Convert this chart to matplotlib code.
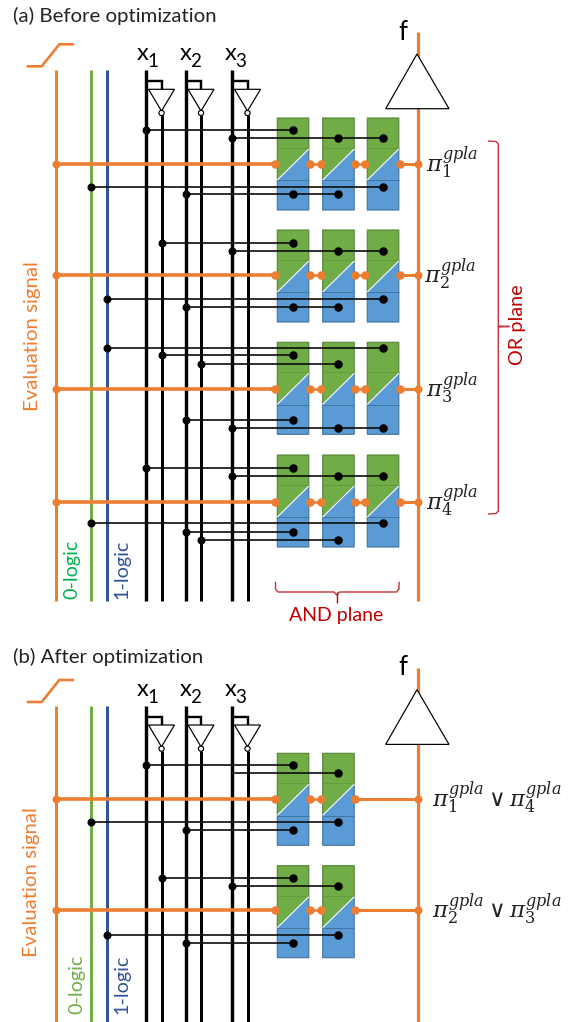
import matplotlib
matplotlib.use('Agg')
import matplotlib.pyplot as plt
from matplotlib.patches import Polygon, Circle

plt.rcParams['font.family'] = ['Lato', 'DejaVu Sans']
plt.rcParams['mathtext.fontset'] = 'dejavuserif'

ORANGE = '#ED7D31'
GREEN = '#70AD47'
BLUE = '#2F5597'
RED = '#C00000'

# rail positions, in picture pixels
rails = {'eval': 55.5, '0': 91, '1': 107,
         'x1': 145.5, 'n1': 161.5, 'x2': 185.5, 'n2': 201, 'x3': 231.5, 'n3': 247.5}
cell_left = [277.3, 322.7, 367.3]
cell_dots = [293, 338, 383]
or_line = 418
x_label_shift = {'1': -3, '2': 0.5, '3': -0.5}
sub_label_shift = {'1': 7.5, '2': 10.5, '3': 9.5}

# panel (a): top of each AND row, its evaluation wire and the crosspoints (rail, y, columns)
rows_a = [118, 230, 342.3, 455]
eval_a = [163.7, 274.7, 389, 502.3]
links_a = [
    ('x1', 129.7, [0], True), ('x3', 138, [1, 2], True), ('0', 187, [2], True), ('x2', 194.3, [0, 1], True),
    ('n1', 242.7, [0], True), ('x3', 250.7, [1, 2], True), ('1', 299, [2], True), ('x2', 307.3, [0, 1], True),
    ('1', 347.7, [2], True), ('n1', 355, [0], True), ('n2', 363.7, [1], True), ('x2', 420, [0], True),
    ('x3', 427.7, [1, 2], True),
    ('x1', 467.7, [0], True), ('x3', 475.7, [1, 2], True), ('0', 523.3, [2], True), ('x2', 532.3, [0], True),
    ('n2', 540.3, [1], True),
]
terms_a = [r'$\pi_1^{gpla}$', r'$\pi_2^{gpla}$', r'$\pi_3^{gpla}$', r'$\pi_4^{gpla}$']

# panel (b)
rows_b = [753.3, 865.7]
eval_b = [799.3, 910]
links_b = [
    ('x1', 765.3, [0], True), ('x3', 773.3, [1], False), ('0', 822.3, [1], True), ('x2', 830.3, [0], True),
    ('n1', 878.3, [0], True), ('x3', 886, [1], True), ('1', 934.7, [1], True), ('x2', 943, [0], True),
]
terms_b = [r'$\pi_1^{gpla}\vee\pi_4^{gpla}$', r'$\pi_2^{gpla}\vee\pi_3^{gpla}$']


def px(w):
    return w * 0.72


def wire(ax, xs, ys, color='black', w=3.0, z=2):
    ax.plot(xs, ys, color=color, lw=px(w), solid_capstyle='butt', solid_joinstyle='miter', zorder=z)


def draw_cell(ax, x0, t):
    x1 = x0 + 31.5
    ax.add_patch(Polygon([(x0, t), (x1, t), (x1, t + 31), (x0, t + 62)], fc=GREEN, ec='#548235', lw=0.8, zorder=3))
    ax.add_patch(Polygon([(x0, t + 62), (x1, t + 31), (x1, t + 92), (x0, t + 92)], fc='#5B9BD5', ec='#41719C', lw=0.8, zorder=3))
    wire(ax, [x0, x1], [t + 30, t + 30], '#5F9A3C', 0.9, 4)
    wire(ax, [x0, x1], [t + 62.5, t + 62.5], '#41719C', 0.9, 4)
    wire(ax, [x0, x1], [t + 62, t + 31], 'white', 1.2, 4)


def draw_panel(ax, dy, bottom, tops, evals, links, n_cols):
    # ramp of the evaluation signal
    wire(ax, [26.7, 41.7, 59.3, 74], [66.3 + dy, 66.3 + dy, 44.3 + dy, 44.3 + dy], ORANGE, 2.6)

    # vertical rails
    y0 = 70 + dy
    wire(ax, [rails['eval']] * 2, [y0, bottom], ORANGE, 3)
    wire(ax, [rails['0']] * 2, [y0, bottom], GREEN, 3)
    wire(ax, [rails['1']] * 2, [y0, bottom], BLUE, 3)
    for i in ['1', '2', '3']:
        xt = rails['x' + i]
        xn = rails['n' + i]
        wire(ax, [xt, xt], [y0, bottom], 'black', 3.4)
        wire(ax, [xn, xn], [115 + dy, bottom], 'black', 3)
        wire(ax, [xt, xn, xn], [81 + dy, 81 + dy, 90 + dy], 'black', 2.4)
        # inverter
        ax.add_patch(Polygon([(xn - 13, 89.3 + dy), (xn + 13, 89.3 + dy), (xn, 111 + dy)],
                             fc='white', ec='black', lw=px(1.2), zorder=5))
        ax.add_patch(Circle((xn, 113 + dy), 2.6, fc='white', ec='black', lw=px(1.2), zorder=6))
        ax.text(xt + x_label_shift[i], 54 + dy, 'x', fontsize=17, ha='center', va='center', color='black')
        ax.text(xt + sub_label_shift[i], 61.5 + dy, i, fontsize=13.5, ha='center', va='center', color='black')

    # output line and the big triangle
    wire(ax, [or_line, or_line], [32.5 + dy, bottom], ORANGE, 3.2)
    ax.add_patch(Polygon([(417, 54 + dy), (385.7, 108.7 + dy), (449, 108.7 + dy)], fc='white', ec='black', lw=px(1.2), zorder=5))
    ax.text(403, 32 + dy, 'f', fontsize=18.5, ha='center', va='center', color='black')

    for t, ye in zip(tops, evals):
        last = cell_left[n_cols - 1] + 31.5
        wire(ax, [rails['eval'], cell_left[0] - 2], [ye, ye], ORANGE, 3.6, 2.5)
        ax.plot([rails['eval'], or_line], [ye, ye], 'o', color=ORANGE, ms=px(8), mew=0, zorder=5)
        for c in range(n_cols):
            draw_cell(ax, cell_left[c], t)
            ax.plot([cell_left[c] - 2.2, cell_left[c] + 32.2], [ye, ye], 'o', color=ORANGE, ms=px(8.5), mew=0, zorder=5)
            if c < n_cols - 1:
                wire(ax, [cell_left[c] + 32, cell_left[c + 1] - 2], [ye, ye], ORANGE, 2.6, 2.5)
        wire(ax, [last, or_line], [ye, ye], ORANGE, 3, 2.5)

    # connections from the rails into the AND cells
    for rail, y, cols, on_rail in links:
        wire(ax, [rails[rail], cell_dots[max(cols)]], [y, y], '#111111', 1.7, 6)
        ax.plot([cell_dots[c] for c in cols], [y] * len(cols), 'o', color='black', ms=px(8.5), mew=0, zorder=7)
        if on_rail:
            ax.plot(rails[rail], y, 'o', color='black', ms=px(8), mew=0, zorder=7)


fig = plt.figure(figsize=(5.68, 10.22), dpi=100)
ax = fig.add_axes([0, 0, 1, 1])
ax.set_xlim(0, 568)
ax.set_ylim(1022, 0)
ax.axis('off')

draw_panel(ax, 0, 601.3, rows_a, eval_a, links_a, 3)
draw_panel(ax, 635.7, 1022, rows_b, eval_b, links_b, 2)

# titles and side labels
ax.text(13, 15.5, '(a) Before optimization', fontsize=14.7, va='center', ha='left', color='#222222')
ax.text(13, 656.5, '(b) After optimization', fontsize=14.7, va='center', ha='left', color='#222222')

ax.text(33, 336, 'Evaluation signal', fontsize=14.7, rotation=90, ha='center', va='center', color=ORANGE)
ax.text(72, 569, '0-logic', fontsize=14.2, rotation=90, ha='center', va='center', color='#00B050')
ax.text(122, 569, '1-logic', fontsize=14.2, rotation=90, ha='center', va='center', color=BLUE)
ax.text(32, 882, 'Evaluation signal', fontsize=14.7, rotation=90, ha='center', va='center', color=ORANGE)
ax.text(77, 984, '0-logic', fontsize=14.2, rotation=90, ha='center', va='center', color=GREEN)
ax.text(122, 984, '1-logic', fontsize=14.2, rotation=90, ha='center', va='center', color=BLUE)

for term, ye, xt in zip(terms_a, eval_a, [426, 424, 426, 426]):
    ax.text(xt, ye - 1, term, fontsize=16.5, ha='left', va='center', color='#222222')
for term, ye in zip(terms_b, eval_b):
    ax.text(432, ye - 1, term, fontsize=16.5, ha='left', va='center', color='#222222')

# OR plane and AND plane brackets
wire(ax, [488, 496, 498.3, 498.3, 509.5, 498.3, 498.3, 496, 488],
     [141, 141.5, 144, 326, 326.5, 327, 511, 513.5, 514], '#C8323C', 1.4)
ax.text(518, 325, 'OR plane', fontsize=14.3, rotation=90, ha='center', va='center', color=RED)
wire(ax, [275.5, 275.5, 278, 334, 336.7, 339.5, 396.5, 399, 399],
     [581.7, 589, 592, 592, 595, 592, 592, 589, 581.7], '#C8323C', 1.4)
wire(ax, [336.7, 336.7], [592, 603], RED, 1.4)
ax.text(336.5, 615, 'AND plane', fontsize=14, ha='center', va='center', color=RED)

fig.savefig('out.png', dpi=100)
